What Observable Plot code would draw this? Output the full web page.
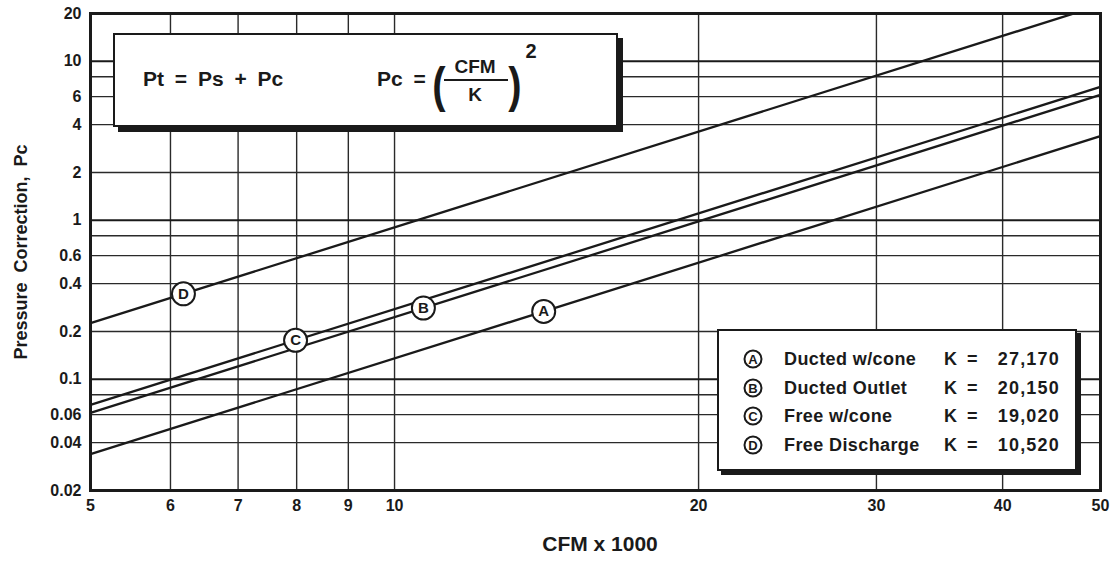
<!DOCTYPE html>
<html>
<head>
<meta charset="utf-8">
<script src="https://cdn.jsdelivr.net/npm/d3@7"></script>
<script src="https://cdn.jsdelivr.net/npm/@observablehq/plot@0.6"></script>
<style>
  html, body { margin: 0; padding: 0; background: #fff; overflow: hidden; }
  body { width: 1110px; height: 564px; position: relative; font-family: "Liberation Sans", Arial, Helvetica, sans-serif; color: #1a1a1a; }
  #chart svg { display: block; }
  .abs { position: absolute; white-space: nowrap; line-height: 1; }
  .c { transform: translate(-50%, -50%); }
  .l { transform: translate(0, -50%); }
  .r { transform: translate(-100%, -50%); }
</style>
</head>
<body>
<div id="chart"></div>
<script>
// ---- data ----
const curveIds = ["A", "B", "C", "D"];
const curveNames = ["Ducted w/cone", "Ducted Outlet", "Free w/cone", "Free Discharge"];
const kValues = [27170, 20150, 19020, 10520];
const kLabels = ["27,170", "20,150", "19,020", "10,520"];
const cfmRange = [5, 50];                 // CFM x 1000, ends of the chart
const labelCfm = [14.05, 10.68, 7.98, 6.18]; // where the circled letters sit
const xTicks = [5, 6, 7, 8, 9, 10, 20, 30, 40, 50];
const xGrid = [6, 7, 8, 9, 10, 20, 30, 40];
const yTicks = [20, 10, 6, 4, 2, 1, 0.6, 0.4, 0.2, 0.1, 0.06, 0.04, 0.02];
const yGridMajor = [10, 1, 0.1];
const yGridMinor = [8, 6, 4, 2, 0.8, 0.6, 0.4, 0.2, 0.08, 0.06, 0.04];

// Pc = (CFM / K)^2
const curves = curveIds.flatMap((id, i) => cfmRange.map(x => ({id, x, pc: (x * 1000 / kValues[i]) ** 2})));
const labels = curveIds.map((id, i) => ({id, x: labelCfm[i], pc: (labelCfm[i] * 1000 / kValues[i]) ** 2}));

const ink = "#1a1a1a";
const chart = Plot.plot({
  width: 1110, height: 564,
  marginLeft: 90, marginRight: 10, marginTop: 13, marginBottom: 74,
  x: {type: "log", domain: [5, 50]},
  y: {type: "log", domain: [0.02, 20], axis: null},
  style: {fontFamily: '"Liberation Sans", Arial, Helvetica, sans-serif', background: "white", color: ink},
  marks: [
    Plot.ruleX(xGrid, {stroke: "#2a2a2a", strokeWidth: 1.4}),
    Plot.ruleY(yGridMinor, {stroke: "#2a2a2a", strokeWidth: 1.3}),
    Plot.ruleY(yGridMajor, {stroke: ink, strokeWidth: 2}),
    Plot.line(curves, {x: "x", y: "pc", z: "id", stroke: ink, strokeWidth: 2.3, clip: true}),
    Plot.dot(labels, {x: "x", y: "pc", r: 11.5, fill: "white", stroke: ink, strokeWidth: 2}),
    Plot.text(labels, {x: "x", y: "pc", text: "id", fontSize: 15, fontWeight: "bold", fill: ink}),
    Plot.frame({stroke: ink, strokeWidth: 3}),
    Plot.axisX({ticks: xTicks, tickSize: 0, tickPadding: 9, tickFormat: d => String(d), fontSize: 16, fontWeight: "bold", label: null}),
    Plot.text(yTicks, {y: d => d, text: d => String(d), frameAnchor: "left", dx: -9, textAnchor: "end", fontSize: 16, fontWeight: "bold", fill: ink})
  ]
});
document.getElementById("chart").appendChild(chart);

const body = document.body;
function add(html, style, cls) {
  const d = document.createElement("div");
  d.className = "abs " + (cls || "");
  d.innerHTML = html;
  Object.assign(d.style, style);
  body.appendChild(d);
  return d;
}

// axis titles
add("Pressure&nbsp; Correction,&nbsp; Pc", {left: "21px", top: "252px", fontSize: "18px", fontWeight: "bold", transform: "translate(-50%,-50%) rotate(-90deg)"});
add("CFM x 1000", {left: "600px", top: "543px", fontSize: "21px", fontWeight: "bold"}, "c");

// formula box
add("", {left: "113px", top: "33px", width: "501px", height: "90px", border: "2px solid " + ink, boxShadow: "5px 5px 0 " + ink, background: "white"});
add("Pt = Ps + Pc", {left: "143px", top: "78px", fontSize: "21px", fontWeight: "bold", wordSpacing: "5px"}, "l");
add("Pc =", {left: "377px", top: "78px", fontSize: "21px", fontWeight: "bold", wordSpacing: "5px"}, "l");
add("(", {left: "439px", top: "85px", fontSize: "50px", fontWeight: "bold", transform: "translate(-50%,-50%) scaleX(0.8)"});
add("CFM", {left: "475px", top: "66px", fontSize: "19px", fontWeight: "bold"}, "c");
add("", {left: "444px", top: "79px", width: "64px", height: "2px", background: ink});
add("K", {left: "475px", top: "94px", fontSize: "19px", fontWeight: "bold"}, "c");
add(")", {left: "515px", top: "85px", fontSize: "50px", fontWeight: "bold", transform: "translate(-50%,-50%) scaleX(0.8)"});
add("2", {left: "531px", top: "51px", fontSize: "20px", fontWeight: "bold"}, "c");

// legend box
add("", {left: "717px", top: "329px", width: "356px", height: "138px", border: "2px solid " + ink, boxShadow: "4px 4px 0 " + ink, background: "white"});
curveIds.forEach((id, i) => {
  const y = 359 + i * 28.7;
  add(id, {left: "753px", top: y + "px", width: "15px", height: "15px", border: "2px solid " + ink, borderRadius: "50%", display: "flex", alignItems: "center", justifyContent: "center", fontSize: "13px", fontWeight: "bold", background: "white"}, "c");
  add(curveNames[i], {left: "784px", top: y + "px", fontSize: "18px", fontWeight: "bold", letterSpacing: "0.4px"}, "l");
  add("K =", {left: "944px", top: y + "px", fontSize: "18px", fontWeight: "bold", wordSpacing: "5px"}, "l");
  add(kLabels[i], {left: "1060px", top: y + "px", fontSize: "18px", fontWeight: "bold", letterSpacing: "1.2px"}, "r");
});
</script>
</body>
</html>
